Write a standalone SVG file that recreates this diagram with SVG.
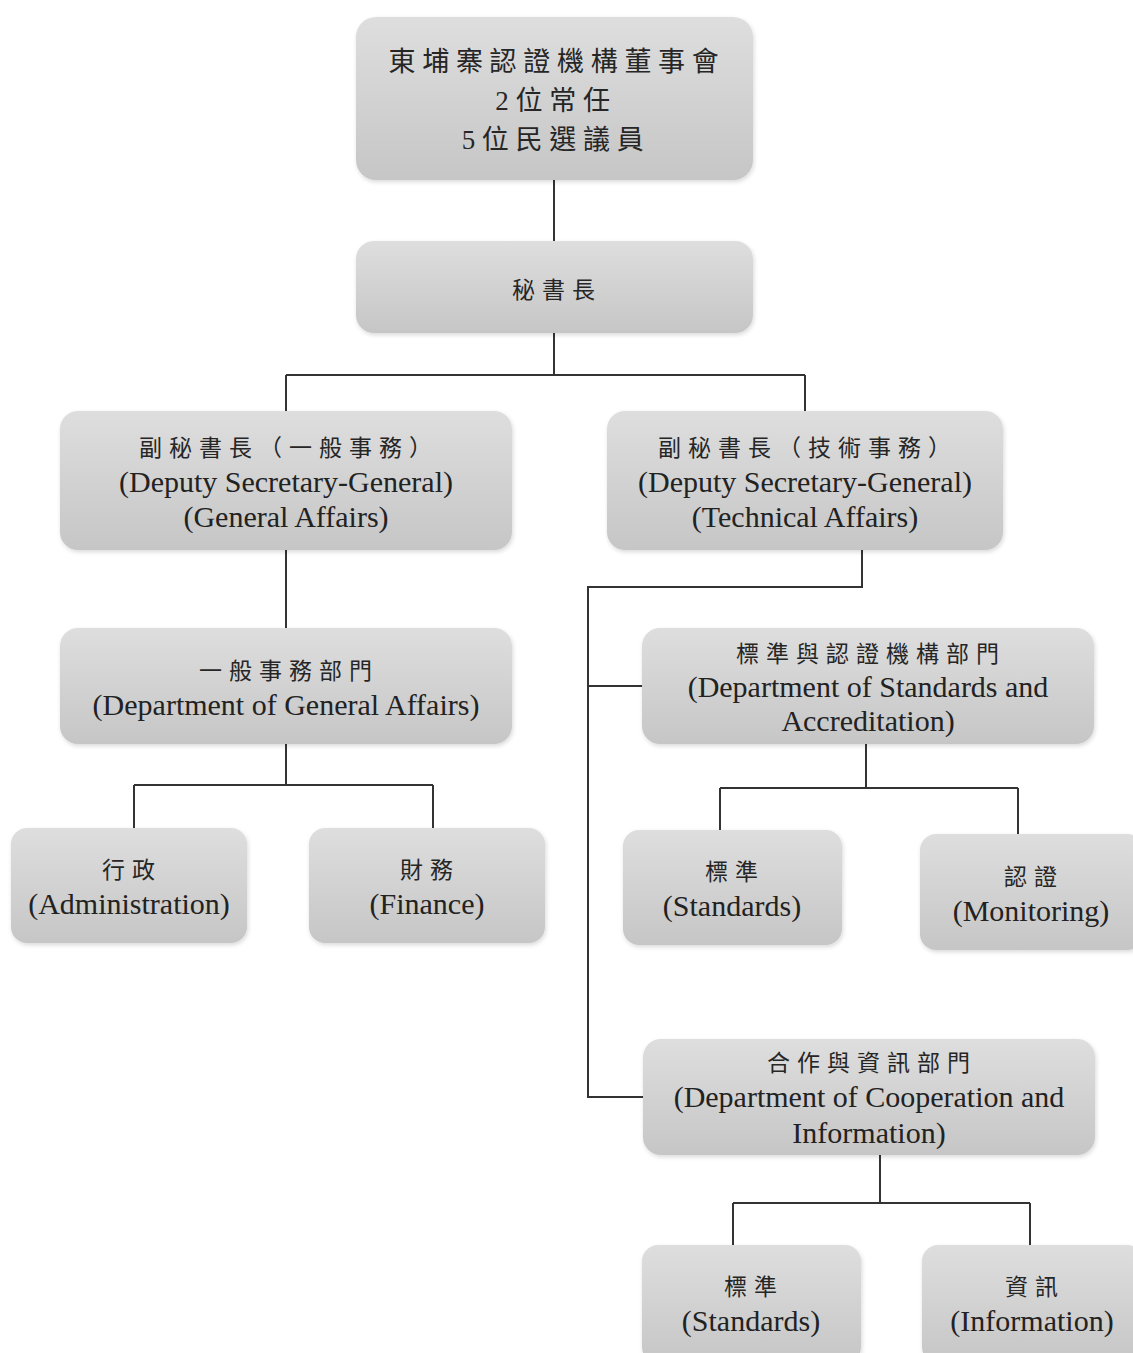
<svg xmlns="http://www.w3.org/2000/svg" width="1133" height="1353" viewBox="0 0 1133 1353">
<defs>
<linearGradient id="g" x1="0" y1="0" x2="0" y2="1">
<stop offset="0" stop-color="#dedede"/>
<stop offset="1" stop-color="#c6c6c6"/>
</linearGradient>
<filter id="sh" x="-5%" y="-5%" width="110%" height="115%">
<feDropShadow dx="1" dy="2" stdDeviation="2" flood-color="#000" flood-opacity="0.15"/>
</filter>
<style>
.n{fill:url(#g);filter:url(#sh);}
.t{font-family:"Liberation Serif","Noto Sans CJK TC",serif;fill:#222;text-anchor:middle;font-size:30px;}
.c{font-family:"Noto Sans CJK TC","Liberation Serif",serif;fill:#262626;text-anchor:middle;font-size:23px;letter-spacing:7px;}
.big{font-size:27px;letter-spacing:6.7px;}
.ln{fill:none;stroke:#333;stroke-width:2;}
</style>
</defs>
<rect width="1133" height="1353" fill="#fff"/>
<g id="connectors">
<path class="ln" d="M554 180V241"/>
<path class="ln" d="M554 333V375M286 375H805M286 375V411M805 375V411"/>
<path class="ln" d="M286 550V628"/>
<path class="ln" d="M286 744V785M134 785H433M134 785V828M433 785V828"/>
<path class="ln" d="M862 550V587H588V1097H643M588 686H642"/>
<path class="ln" d="M866 744V788M720 788H1018M720 788V830M1018 788V834"/>
<path class="ln" d="M880 1155V1203M733 1203H1030M733 1203V1245M1030 1203V1245"/>
</g>
<g id="board">
<rect class="n" x="356" y="17" width="397" height="163" rx="20"/>
<text class="c big" x="557" y="71">東埔寨認證機構董事會</text>
<text class="c big" x="556" y="110"><tspan font-family="Liberation Serif">2</tspan>位常任</text>
<text class="c big" x="556" y="149"><tspan font-family="Liberation Serif">5</tspan>位民選議員</text>
</g>
<g id="secgen">
<rect class="n" x="356" y="241" width="397" height="92" rx="18"/>
<text class="c" x="557" y="298">秘書長</text>
</g>
<g id="dsg-general">
<rect class="n" x="60" y="411" width="452" height="139" rx="18"/>
<text class="c" x="289" y="456">副秘書長（一般事務）</text>
<text class="t" x="286" y="492">(Deputy Secretary-General)</text>
<text class="t" x="286" y="527">(General Affairs)</text>
</g>
<g id="dsg-tech">
<rect class="n" x="607" y="411" width="396" height="139" rx="18"/>
<text class="c" x="808" y="456">副秘書長（技術事務）</text>
<text class="t" x="805" y="492">(Deputy Secretary-General)</text>
<text class="t" x="805" y="527">(Technical Affairs)</text>
</g>
<g id="dept-general">
<rect class="n" x="60" y="628" width="452" height="116" rx="18"/>
<text class="c" x="289" y="679">一般事務部門</text>
<text class="t" x="286" y="715">(Department of General Affairs)</text>
</g>
<g id="admin">
<rect class="n" x="11" y="828" width="236" height="115" rx="16"/>
<text class="c" x="132" y="878">行政</text>
<text class="t" x="129" y="914">(Administration)</text>
</g>
<g id="finance">
<rect class="n" x="309" y="828" width="236" height="115" rx="16"/>
<text class="c" x="430" y="878">財務</text>
<text class="t" x="427" y="914">(Finance)</text>
</g>
<g id="dept-standards">
<rect class="n" x="642" y="628" width="452" height="116" rx="18"/>
<text class="c" x="871" y="662">標準與認證機構部門</text>
<text class="t" x="868" y="697">(Department of Standards and</text>
<text class="t" x="868" y="731">Accreditation)</text>
</g>
<g id="standards1">
<rect class="n" x="623" y="830" width="219" height="115" rx="16"/>
<text class="c" x="735" y="880">標準</text>
<text class="t" x="732" y="916">(Standards)</text>
</g>
<g id="monitoring">
<rect class="n" x="920" y="834" width="223" height="116" rx="16"/>
<text class="c" x="1034" y="885">認證</text>
<text class="t" x="1031" y="921">(Monitoring)</text>
</g>
<g id="dept-coop">
<rect class="n" x="643" y="1039" width="452" height="116" rx="18"/>
<text class="c" x="872" y="1071">合作與資訊部門</text>
<text class="t" x="869" y="1107">(Department of Cooperation and</text>
<text class="t" x="869" y="1143">Information)</text>
</g>
<g id="standards2">
<rect class="n" x="642" y="1245" width="219" height="118" rx="16"/>
<text class="c" x="754" y="1295">標準</text>
<text class="t" x="751" y="1331">(Standards)</text>
</g>
<g id="information">
<rect class="n" x="922" y="1245" width="221" height="118" rx="16"/>
<text class="c" x="1035" y="1295">資訊</text>
<text class="t" x="1032" y="1331">(Information)</text>
</g>
</svg>
